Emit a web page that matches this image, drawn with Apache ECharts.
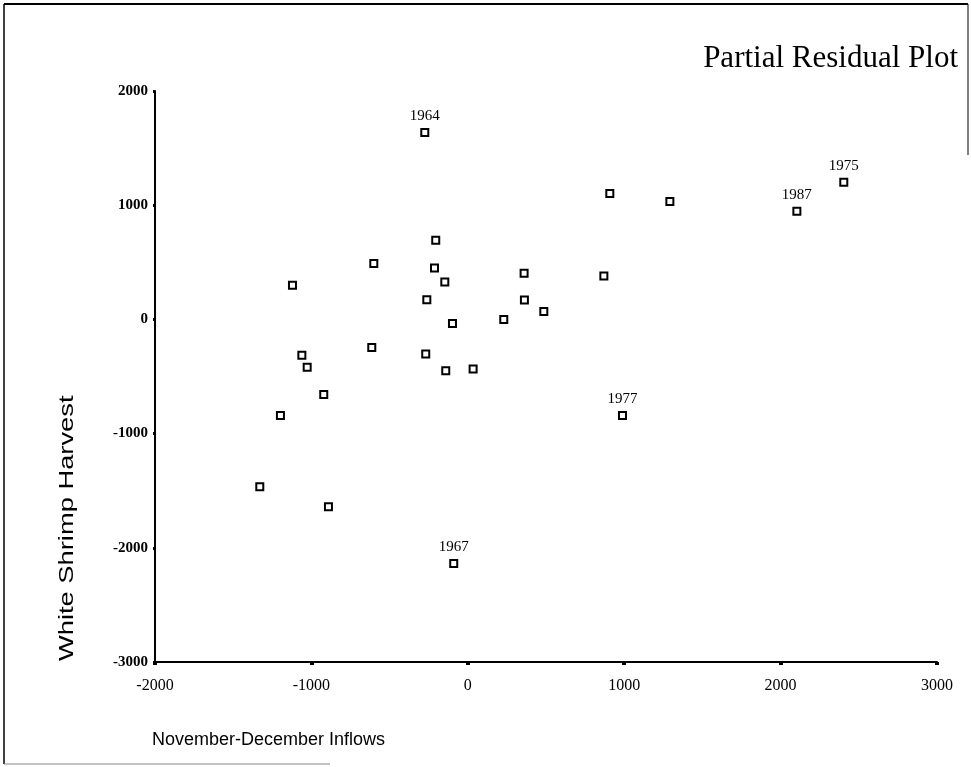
<!DOCTYPE html>
<html>
<head>
<meta charset="utf-8">
<script src="https://cdn.jsdelivr.net/npm/echarts@6/dist/echarts.min.js"></script>
<style>
html,body{margin:0;padding:0;background:#fff;}
#main{width:971px;height:767px;}
</style>
</head>
<body>
<div id="main"></div>
<script>
// Data
var inflows = [-275, 908, 1292, 2104, 2404, -205, -601, 360, -1121, -213, -147, 870, -262, 362, 486, -98, 230, -614, -269, -1061, -1027, -141, 34, -921, -1198, 989, -1330, -891, -90];
var harvest = [1637, 1103, 1033, 946, 1200, 692, 490, 405, 300, 449, 327, 379, 172, 169, 70, -35, 0, -245, -304, -313, -420, -449, -435, -657, -841, -841, -1465, -1640, -2137];
var years   = ['1964', '', '', '1987', '1975', '', '', '', '', '', '', '', '', '', '', '', '', '', '', '', '', '', '', '', '', '1977', '', '', '1967'];
var xTicks = [-2000, -1000, 0, 1000, 2000, 3000];
var yTicks = [-3000, -2000, -1000, 0, 1000, 2000];

var points = inflows.map(function (x, i) { return { value: [x, harvest[i]], name: years[i] }; });

var chart = echarts.init(document.getElementById('main'), null, { renderer: 'canvas' });
var serif = '"Liberation Serif", "DejaVu Serif", serif';
var sans = '"Liberation Sans", Arial, sans-serif';
var plain = function (v) { return String(v); };

chart.setOption({
  backgroundColor: '#fff',
  animation: false,
  title: {
    text: 'Partial Residual Plot',
    right: 8,
    top: 38,
    textStyle: { fontFamily: serif, fontSize: 31, fontWeight: 'normal', color: '#000' }
  },
  grid: { left: 155, right: 34, top: 91, bottom: 105, containLabel: false },
  xAxis: {
    type: 'value',
    min: xTicks[0], max: xTicks[xTicks.length - 1], interval: 1000,
    splitLine: { show: false },
    axisLine: { show: true, onZero: false, lineStyle: { color: '#000', width: 2 } },
    axisTick: { show: true, length: 3, lineStyle: { color: '#000', width: 4 } },
    axisLabel: { color: '#000', fontFamily: serif, fontSize: 16, margin: 16, formatter: plain }
  },
  yAxis: {
    type: 'value',
    min: yTicks[0], max: yTicks[yTicks.length - 1], interval: 1000,
    splitLine: { show: false },
    axisLine: { show: true, onZero: false, lineStyle: { color: '#000', width: 2 } },
    axisTick: { show: true, length: 2, lineStyle: { color: '#000', width: 3 } },
    axisLabel: { color: '#000', fontFamily: serif, fontSize: 15, fontWeight: 'bold', margin: 7, formatter: plain }
  },
  series: [{
    type: 'scatter',
    data: points,
    symbol: 'rect',
    symbolSize: 7,
    itemStyle: { color: '#fff', borderColor: '#000', borderWidth: 2, opacity: 1 },
    label: {
      show: true,
      position: 'top',
      distance: 4,
      formatter: function (p) { return p.name; },
      color: '#000',
      fontFamily: serif,
      fontSize: 15
    }
  }],
  graphic: [
    { type: 'text', x: 152, y: 731,
      style: { text: 'November-December Inflows', font: '18px ' + sans, fill: '#000' } },
    { type: 'text', x: 57, y: 661, rotation: Math.PI / 2, scaleX: 1.3,
      style: { text: 'White Shrimp Harvest', font: '21px ' + sans, fill: '#000', textAlign: 'left', textVerticalAlign: 'top' } },
    { type: 'line', shape: { x1: 4, y1: 4, x2: 968, y2: 4 }, style: { stroke: '#000', lineWidth: 2 } },
    { type: 'line', shape: { x1: 4, y1: 4, x2: 4, y2: 764 }, style: { stroke: '#000', lineWidth: 1.5 } },
    { type: 'line', shape: { x1: 968, y1: 4, x2: 968, y2: 155 }, style: { stroke: '#000', lineWidth: 1 } },
    { type: 'line', shape: { x1: 4, y1: 764, x2: 330, y2: 764 }, style: { stroke: '#888', lineWidth: 1 } }
  ]
});
</script>
</body>
</html>
